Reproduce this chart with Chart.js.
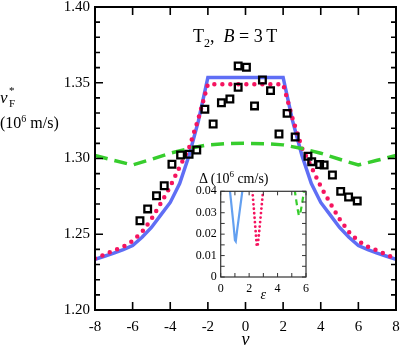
<!DOCTYPE html>
<html>
<head>
<meta charset="utf-8">
<script src="https://cdn.jsdelivr.net/npm/chart.js@4"></script>
<style>
  body { margin: 0; background: #fff; }
  #wrap { position: relative; width: 403px; height: 349px; font-family: 'Liberation Serif', 'DejaVu Serif', serif; color: #000; }
  canvas { position: absolute; }
  .lbl { position: absolute; white-space: nowrap; line-height: 1; }
</style>
</head>
<body>
<div id="wrap">
  <canvas id="main" width="403" height="349" style="left:0;top:0"></canvas>
  <canvas id="inset" width="142" height="118" style="left:168px;top:184px"></canvas>

  <!-- y label -->
  <span class="lbl" style="left:0px;top:89px;font-size:17px;font-style:italic">v</span>
  <span class="lbl" style="left:9px;top:85px;font-size:11px">*</span>
  <span class="lbl" style="left:9px;top:98px;font-size:11px">F</span>
  <span class="lbl" style="left:0px;top:114px;font-size:16px">(10<sup style="font-size:10px">6</sup> m/s)</span>

  <!-- panel title -->
  <span class="lbl" style="left:193px;top:27px;font-size:18px">T<sub style="font-size:12px">2</sub>,&nbsp; <i>B</i> = 3&thinsp;T</span>

  <!-- inset title -->
  <span class="lbl" style="left:199px;top:170px;font-size:14px">Δ (10<sup style="font-size:9px">6</sup> cm/s)</span>
</div>

<script>
// ===== DATA =====
// đường lý thuyết (nu, v*)
const nuCurve = [-8, -7.5, -7, -6.5, -6, -5.5, -5, -4.5, -4, -3.5, -3, -2.5, -2,
                 2, 2.5, 3, 3.5, 4, 4.5, 5, 5.5, 6, 6.5, 7, 7.5, 8];
const blueVals = [1.2335, 1.2355, 1.2375, 1.2398, 1.2425, 1.248, 1.2545, 1.2628, 1.271, 1.2835, 1.302, 1.325, 1.3535,
                  1.3535, 1.325, 1.302, 1.2835, 1.271, 1.2628, 1.2545, 1.248, 1.2425, 1.2398, 1.2375, 1.2355, 1.2335];
const redVals = [1.234, 1.2365, 1.2393, 1.2418, 1.2455, 1.2515, 1.260, 1.2705, 1.2815, 1.2945, 1.307, 1.3265, 1.349,
                 1.349, 1.3265, 1.307, 1.2945, 1.2815, 1.2705, 1.260, 1.2515, 1.2455, 1.2418, 1.2393, 1.2365, 1.234];

const nuGreen = [-8, -7, -6, -5, -4, -3, -2, -1, 0, 1, 2, 3, 4, 5, 6, 7, 8];
const greenVals = [1.302, 1.2988, 1.2957, 1.2995, 1.3035, 1.3066, 1.309, 1.3098, 1.31,
                   1.3098, 1.309, 1.3066, 1.3035, 1.2995, 1.2957, 1.2988, 1.302];

// điểm thực nghiệm (ô vuông)
const sqNu = [-5.61, -5.20, -4.73, -4.32, -3.91, -3.45, -3.00, -2.59, -2.16, -1.72, -1.28, -0.83, -0.39, -0.39,
              0.05, 0.48, 0.90, 1.33, 1.78, 2.21, 2.64, 3.32, 3.52, 3.94, 4.18, 4.62, 5.06, 5.48, 5.94];
const sqV = [1.2589, 1.2667, 1.2754, 1.282, 1.2962, 1.3023, 1.3028, 1.3056, 1.3325, 1.3228, 1.3368, 1.3393, 1.347, 1.3611,
             1.3602, 1.3347, 1.3518, 1.3448, 1.3162, 1.3298, 1.3142, 1.3015, 1.2979, 1.296, 1.2957, 1.2891, 1.2783, 1.2746, 1.272];

// inset: Delta(eps)
const epsBlue = [0.55, 0.75, 0.9, 1.0, 1.06, 1.15, 1.3, 1.45, 1.6];
const dBlue = [0.0465, 0.0340, 0.0245, 0.0172, 0.0166, 0.0215, 0.0290, 0.0365, 0.0440];
const epsRed = [2.15, 2.3, 2.45, 2.54, 2.6, 2.7, 2.85, 3.0];
const dRed = [0.0465, 0.0345, 0.0220, 0.0142, 0.0145, 0.0205, 0.0310, 0.0415];
const epsGreen = [5.1, 5.25, 5.4, 5.5, 5.58, 5.72, 5.9];
const dGreen = [0.0455, 0.0385, 0.0320, 0.0287, 0.0292, 0.0340, 0.0420];

const xTicksMain = { min: -8, max: 8, step: 2 };
const yTicksMain = { min: 1.20, max: 1.40, step: 0.05 };

// ===== STYLE =====
const SERIF = "'Liberation Serif', 'DejaVu Serif', serif";
const BLUE = 'rgb(95,110,245)';
const RED = 'rgb(245,20,95)';
const GREEN = 'rgb(55,205,45)';

const pts = (xs, ys) => xs.map((x, i) => ({ x: x, y: ys[i] }));

// ticks hướng vào trong + khung
function frameTicks(cfg) {
  return {
    id: 'frameTicks',
    afterDatasetsDraw(chart) {
      const { ctx, chartArea: a, scales: { x, y } } = chart;
      ctx.save();
      ctx.strokeStyle = cfg.color;
      ctx.lineWidth = cfg.tickWidth;
      ctx.beginPath();
      for (let v = x.min; v <= x.max + 1e-9; v += cfg.xMinor) {
        const p = x.getPixelForValue(v);
        const r = v / cfg.xMajor;
        const L = Math.abs(r - Math.round(r)) < 1e-6 ? cfg.major : cfg.minor;
        ctx.moveTo(p, a.bottom); ctx.lineTo(p, a.bottom - L);
        ctx.moveTo(p, a.top); ctx.lineTo(p, a.top + L);
      }
      for (let v = y.min; v <= y.max + 1e-9; v += cfg.yMinor) {
        const p = y.getPixelForValue(v);
        const r = v / cfg.yMajor;
        const L = Math.abs(r - Math.round(r)) < 1e-6 ? cfg.major : cfg.minor;
        ctx.moveTo(a.left, p); ctx.lineTo(a.left + L, p);
        ctx.moveTo(a.right, p); ctx.lineTo(a.right - L, p);
      }
      ctx.stroke();
      ctx.lineWidth = cfg.frameWidth;
      ctx.strokeRect(a.left, a.top, a.right - a.left, a.bottom - a.top);
      ctx.restore();
    }
  };
}

// ===== MAIN CHART =====
new Chart(document.getElementById('main'), {
  type: 'line',
  data: {
    datasets: [
      {
        type: 'scatter',
        data: pts(sqNu, sqV),
        pointStyle: 'rect',
        pointRadius: 4.7,
        pointBorderWidth: 2.3,
        pointBorderColor: '#000',
        pointBackgroundColor: 'rgba(255,255,255,0)',
        showLine: false,
        order: 0
      },
      {
        data: pts(nuGreen, greenVals),
        borderColor: GREEN,
        borderWidth: 3.5,
        borderDash: [13, 7],
        pointRadius: 0,
        order: 1
      },
      {
        data: pts(nuCurve, redVals),
        borderColor: RED,
        borderWidth: 4.5,
        borderDash: [0, 8],
        borderCapStyle: 'round',
        pointRadius: 0,
        order: 2
      },
      {
        data: pts(nuCurve, blueVals),
        borderColor: BLUE,
        borderWidth: 3.5,
        pointRadius: 0,
        order: 3
      }
    ]
  },
  options: {
    responsive: false,
    animation: false,
    events: [],
    layout: { padding: { left: 0, top: 7, right: 6.5, bottom: 0 } },
    plugins: { legend: { display: false }, tooltip: { enabled: false } },
    scales: {
      x: {
        type: 'linear',
        min: xTicksMain.min, max: xTicksMain.max,
        grid: { display: false, drawTicks: false },
        border: { display: false },
        ticks: { stepSize: xTicksMain.step, color: '#000', padding: 8, font: { family: SERIF, size: 15 } },
        title: { display: true, text: 'ν', color: '#000', padding: 0, font: { family: SERIF, size: 18, style: 'italic', lineHeight: 1 } },
        afterFit(s) { s.height = 39; s.paddingLeft = 0; s.paddingRight = 0; }
      },
      y: {
        min: yTicksMain.min, max: yTicksMain.max,
        grid: { display: false, drawTicks: false },
        border: { display: false },
        ticks: {
          stepSize: yTicksMain.step, color: '#000', padding: 5,
          font: { family: SERIF, size: 15 },
          callback: v => v.toFixed(2)
        },
        afterFit(s) { s.width = 95; s.paddingTop = 0; s.paddingBottom = 0; }
      }
    }
  },
  plugins: [frameTicks({ color: '#000', tickWidth: 1.6, frameWidth: 2, major: 8, minor: 5,
                         xMajor: 2, xMinor: 2, yMajor: 0.05, yMinor: 0.01 })]
});

// ===== INSET =====
new Chart(document.getElementById('inset'), {
  type: 'line',
  data: {
    datasets: [
      { data: pts(epsBlue, dBlue), borderColor: 'rgb(100,160,240)', borderWidth: 2.2, pointRadius: 0, clip: 0 },
      { data: pts(epsRed, dRed), borderColor: RED, borderWidth: 2.8, borderDash: [0, 4.5], borderCapStyle: 'round', pointRadius: 0, clip: 0 },
      { data: pts(epsGreen, dGreen), borderColor: GREEN, borderWidth: 2.2, borderDash: [6, 4], pointRadius: 0, clip: 0 }
    ]
  },
  options: {
    responsive: false,
    animation: false,
    events: [],
    layout: { padding: { left: 0, top: 7.3, right: 4, bottom: 0 } },
    plugins: { legend: { display: false }, tooltip: { enabled: false } },
    scales: {
      x: {
        type: 'linear', min: 0, max: 6,
        grid: { display: false, drawTicks: false },
        border: { display: false },
        ticks: { stepSize: 2, color: '#000', padding: 5, font: { family: SERIF, size: 12 } },
        title: { display: true, text: 'ε', color: '#000', padding: 0, font: { family: SERIF, size: 14, style: 'italic', lineHeight: 1 } },
        afterFit(s) { s.height = 25; s.paddingLeft = 0; s.paddingRight = 0; }
      },
      y: {
        min: 0, max: 0.04,
        grid: { display: false, drawTicks: false },
        border: { display: false },
        ticks: {
          stepSize: 0.01, color: '#000', padding: 4,
          font: { family: SERIF, size: 12 },
          callback: v => (v === 0 ? '0' : v.toFixed(2))
        },
        afterFit(s) { s.width = 52.7; s.paddingTop = 0; s.paddingBottom = 0; }
      }
    }
  },
  plugins: [frameTicks({ color: '#333', tickWidth: 1, frameWidth: 1.2, major: 4, minor: 4,
                         xMajor: 2, xMinor: 1, yMajor: 0.01, yMinor: 0.005 })]
});
</script>
</body>
</html>
